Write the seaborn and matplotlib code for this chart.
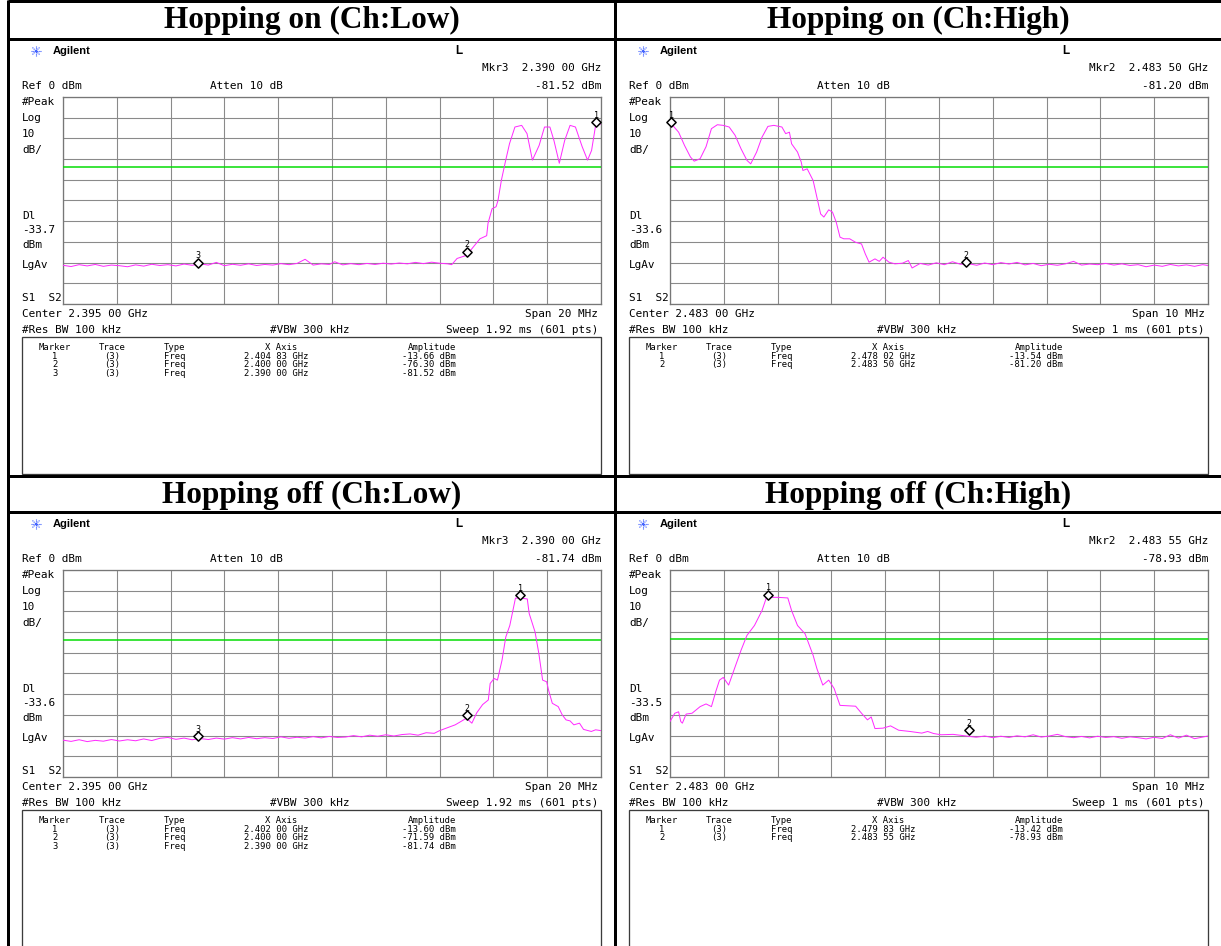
"""Four Agilent spectrum-analyser screenshots (band edge, hopping on/off) in a table."""
import pandas as pd
import seaborn as sns
import matplotlib.pyplot as plt
import matplotlib.transforms as mtransforms
from matplotlib.lines import Line2D
from matplotlib.patches import Rectangle

W, H = 1221, 946

# ---------------- data ----------------
titles = ["Hopping on (Ch:Low)", "Hopping on (Ch:High)",
          "Hopping off (Ch:Low)", "Hopping off (Ch:High)"]
center_mhz = [2395.0, 2483.0, 2395.0, 2483.0]
span_mhz = [20, 10, 20, 10]
sweep_ms = ["1.92", "1", "1.92", "1"]
display_line = [-33.7, -33.6, -33.6, -33.5]

hop_low_freq = [
    2385.0, 2385.3, 2385.6, 2385.9, 2386.2, 2386.5, 2386.8, 2387.1, 2387.4, 2387.7,
    2388.0, 2388.3, 2388.6, 2388.9, 2389.2, 2389.5, 2389.8, 2390.1, 2390.4, 2390.7,
    2391.0, 2391.3, 2391.6, 2391.9, 2392.2, 2392.5, 2392.8, 2393.1, 2393.4, 2393.7,
    2394.0, 2394.3, 2394.6, 2394.9, 2395.1, 2395.4, 2395.7, 2396.0, 2396.3, 2396.6,
    2396.9, 2397.2, 2397.5, 2397.8, 2398.1, 2398.4, 2398.7, 2399.0, 2399.3, 2399.45,
    2399.65, 2400.0, 2400.25, 2400.5, 2400.75, 2400.8, 2400.95, 2401.1, 2401.17, 2401.3,
    2401.45, 2401.6, 2401.8, 2402.05, 2402.25, 2402.45, 2402.7, 2402.9, 2403.1, 2403.25,
    2403.45, 2403.65, 2403.85, 2404.05, 2404.3, 2404.5, 2404.65, 2404.8, 2405.0]
hop_low_dbm = [
    -81.3, -81.9, -81.0, -81.6, -80.9, -81.8, -81.2, -81.5, -82.0, -81.1,
    -81.7, -80.8, -81.4, -81.0, -81.6, -80.7, -81.3, -80.6, -81.2, -79.9,
    -81.5, -80.8, -81.3, -80.6, -81.4, -80.9, -81.2, -80.5, -81.0, -80.4,
    -78.4, -81.2, -80.6, -80.9, -79.6, -81.1, -80.5, -81.0, -80.4, -80.9,
    -80.3, -80.7, -80.2, -80.6, -79.9, -80.5, -79.8, -80.3, -80.6, -81.0,
    -78.0, -76.5, -72.5, -68.5, -67.0, -61.0, -54.0, -53.0, -50.0, -40.0,
    -31.0, -22.5, -14.5, -13.7, -17.7, -30.5, -23.4, -14.5, -14.5, -21.0,
    -32.0, -21.0, -13.7, -14.5, -24.0, -30.5, -25.8, -13.7, -13.0]
hop_low_mkr_freq = [2404.83, 2400.00, 2390.00]
hop_low_mkr_dbm = [-13.66, -76.30, -81.52]

hop_high_freq = [
    2478.0, 2478.05, 2478.16, 2478.27, 2478.38, 2478.45, 2478.56, 2478.67, 2478.77, 2478.88,
    2478.99, 2479.10, 2479.21, 2479.32, 2479.43, 2479.50, 2479.61, 2479.71, 2479.82, 2479.93,
    2480.08, 2480.15, 2480.22, 2480.26, 2480.37, 2480.44, 2480.47, 2480.55, 2480.66, 2480.73,
    2480.80, 2480.86, 2480.95, 2481.02, 2481.09, 2481.16, 2481.23, 2481.34, 2481.45, 2481.56,
    2481.63, 2481.70, 2481.81, 2481.89, 2481.96, 2482.07, 2482.18, 2482.32, 2482.43, 2482.50,
    2482.65, 2482.8, 2482.95, 2483.1, 2483.25, 2483.4, 2483.55, 2483.7, 2483.85, 2484.0,
    2484.15, 2484.3, 2484.45, 2484.6, 2484.75, 2484.9, 2485.05, 2485.2, 2485.35, 2485.5,
    2485.65, 2485.8, 2485.95, 2486.1, 2486.25, 2486.4, 2486.55, 2486.7, 2486.85, 2487.0,
    2487.15, 2487.3, 2487.45, 2487.6, 2487.75, 2487.9, 2488.0]
hop_high_dbm = [
    -13.5, -13.7, -17.0, -23.4, -29.0, -31.0, -29.8, -24.0, -15.3, -13.4,
    -13.7, -14.5, -18.5, -25.0, -30.6, -32.3, -26.6, -19.4, -14.2, -13.7,
    -14.5, -17.7, -17.0, -22.6, -26.6, -31.5, -35.5, -34.7, -40.3, -48.4,
    -56.5, -58.0, -54.5, -55.6, -60.5, -67.7, -68.5, -68.5, -70.2, -71.0,
    -75.8, -79.8, -78.2, -79.4, -77.4, -79.8, -80.6, -80.3, -79.0, -82.6,
    -80.4, -81.2, -80.1, -81.0, -79.6, -80.8, -80.5, -81.3, -80.2, -81.0,
    -80.0, -80.7, -79.9, -81.1, -80.4, -81.5, -80.8, -81.3, -80.6, -79.4,
    -81.2, -80.7, -81.0, -80.4, -81.2, -80.6, -81.4, -81.0, -82.0, -81.2,
    -81.8, -80.9, -81.6, -81.1, -81.8, -81.0, -81.4]
hop_high_mkr_freq = [2478.02, 2483.50]
hop_high_mkr_dbm = [-13.54, -81.20]

fix_low_freq = [
    2385.0, 2385.3, 2385.6, 2385.9, 2386.2, 2386.5, 2386.8, 2387.1, 2387.4, 2387.7,
    2388.0, 2388.3, 2388.6, 2388.9, 2389.2, 2389.5, 2389.8, 2390.1, 2390.4, 2390.7,
    2391.0, 2391.3, 2391.6, 2391.9, 2392.2, 2392.5, 2392.8, 2393.1, 2393.4, 2393.7,
    2394.0, 2394.3, 2394.6, 2394.9, 2395.2, 2395.5, 2395.8, 2396.1, 2396.4, 2396.7,
    2397.0, 2397.3, 2397.6, 2397.9, 2398.2, 2398.5, 2398.8, 2399.0, 2399.58, 2400.0,
    2400.2, 2400.38, 2400.6, 2400.81, 2400.88, 2401.03, 2401.15, 2401.32, 2401.46, 2401.61,
    2401.75, 2401.82, 2402.04, 2402.26, 2402.33, 2402.55, 2402.69, 2402.83, 2402.98, 2403.05,
    2403.19, 2403.41, 2403.56, 2403.7, 2403.85, 2403.99, 2404.2, 2404.35, 2404.64, 2404.8,
    2405.0]
fix_low_dbm = [
    -82.2, -82.8, -82.0, -82.9, -82.3, -82.7, -81.9, -82.6, -82.0, -82.5,
    -81.6, -82.4, -81.3, -80.9, -81.8, -81.2, -82.0, -81.4, -81.9, -81.2,
    -81.7, -81.0, -81.6, -80.9, -81.5, -81.0, -81.4, -80.6, -81.3, -80.8,
    -81.2, -80.5, -81.1, -80.4, -80.9, -80.7, -80.0, -80.6, -79.8, -80.3,
    -79.6, -80.2, -79.5, -79.2, -79.8, -78.6, -78.9, -77.6, -74.8, -71.6,
    -74.0, -69.0, -65.0, -62.8, -54.8, -52.4, -53.2, -43.6, -32.4, -26.8,
    -18.0, -13.6, -13.6, -14.0, -21.0, -30.0, -40.4, -53.2, -54.0, -58.0,
    -64.4, -66.0, -70.0, -72.4, -72.9, -74.8, -74.0, -77.0, -78.0, -77.2,
    -77.6]
fix_low_mkr_freq = [2402.00, 2400.00, 2390.00]
fix_low_mkr_dbm = [-13.60, -71.59, -81.74]

fix_high_freq = [
    2478.0, 2478.09, 2478.16, 2478.2, 2478.23, 2478.30, 2478.41, 2478.56, 2478.67, 2478.77,
    2478.85, 2478.92, 2478.99, 2479.09, 2479.21, 2479.32, 2479.43, 2479.57, 2479.71, 2479.79,
    2479.86, 2480.00, 2480.19, 2480.26, 2480.37, 2480.51, 2480.66, 2480.73, 2480.84, 2480.95,
    2481.05, 2481.16, 2481.31, 2481.45, 2481.56, 2481.67, 2481.74, 2481.81, 2481.96, 2482.10,
    2482.25, 2482.46, 2482.68, 2482.79, 2482.90, 2483.04, 2483.26, 2483.48, 2483.69, 2483.85,
    2484.0, 2484.15, 2484.3, 2484.45, 2484.6, 2484.75, 2484.9, 2485.05, 2485.2, 2485.35,
    2485.5, 2485.65, 2485.8, 2485.95, 2486.1, 2486.25, 2486.4, 2486.55, 2486.7, 2486.85,
    2487.0, 2487.15, 2487.3, 2487.45, 2487.6, 2487.75, 2487.9, 2488.0]
fix_high_dbm = [
    -73.2, -69.2, -68.5, -73.2, -74.0, -69.6, -69.2, -66.0, -64.7, -66.0,
    -58.8, -53.2, -51.9, -55.6, -46.8, -38.8, -31.6, -26.8, -19.6, -13.5,
    -13.2, -13.2, -13.5, -19.6, -26.8, -30.8, -41.2, -47.6, -55.6, -53.2,
    -57.2, -65.4, -65.6, -65.8, -69.2, -72.4, -71.0, -76.6, -76.4, -75.3,
    -77.4, -78.0, -78.8, -78.0, -79.0, -79.6, -79.4, -80.1, -80.8, -80.2,
    -81.0, -80.3, -80.9, -80.1, -80.6, -79.6, -80.7, -80.2, -79.4, -80.5,
    -81.0, -80.4, -81.1, -80.3, -80.9, -80.5, -81.3, -80.6, -81.0, -81.6,
    -80.8, -81.4, -79.6, -81.2, -79.8, -81.5, -80.7, -80.2]
fix_high_mkr_freq = [2479.83, 2483.55]
fix_high_mkr_dbm = [-13.42, -78.93]

traces = [(hop_low_freq, hop_low_dbm, hop_low_mkr_freq, hop_low_mkr_dbm),
          (hop_high_freq, hop_high_dbm, hop_high_mkr_freq, hop_high_mkr_dbm),
          (fix_low_freq, fix_low_dbm, fix_low_mkr_freq, fix_low_mkr_dbm),
          (fix_high_freq, fix_high_dbm, fix_high_mkr_freq, fix_high_mkr_dbm)]

# ---------------- layout (pixels, origin top-left) ----------------
sns.set_style("white")
plt.rcParams['font.family'] = ['DejaVu Sans Mono', 'DejaVu Sans']
plt.rcParams['text.color'] = 'black'
MONO = 'DejaVu Sans Mono'
fig = plt.figure(figsize=(W / 100, H / 100), dpi=100)

PX = 0.72  # points per pixel at 100 dpi


def fx(x):
    return x / W


def fy(y):
    return 1 - y / H


def txt(x, y, s, ha='left', size=7.9, **kw):
    fig.text(fx(x), fy(y), s, ha=ha, va='center', size=size, **kw)


def hline(x0, x1, y, lw, color='black'):
    fig.add_artist(Line2D([fx(x0), fx(x1)], [fy(y), fy(y)], lw=lw * PX,
                          color=color, transform=fig.transFigure, solid_capstyle='butt'))


def vline(x, y0, y1, lw, color='black'):
    fig.add_artist(Line2D([fx(x), fx(x)], [fy(y0), fy(y1)], lw=lw * PX,
                          color=color, transform=fig.transFigure, solid_capstyle='butt'))


def ghz(mhz):
    s = f"{mhz / 1000:.5f}"
    return s[:5] + " " + s[5:] + " GHz"


def draw_panel(i, ox, oy):
    freq, dbm, mk_f, mk_d = traces[i]
    start = center_mhz[i] - span_mhz[i] / 2

    # instrument header
    cx, cy = ox + 36, oy + 51
    for dx, dy in [(5, 0), (0, 5), (3.5, 3.5), (3.5, -3.5)]:
        fig.add_artist(Line2D([fx(cx - dx), fx(cx + dx)], [fy(cy - dy), fy(cy + dy)],
                              lw=0.8, color='#3a5cff', ls=(0, (1, 0.6)),
                              transform=fig.transFigure))
    txt(ox + 53, oy + 51, "Agilent", size=8, weight='bold', family='Liberation Sans')
    txt(ox + 455, oy + 51, "L", size=8.5, weight='bold', family='Liberation Sans')
    n = len(mk_f)
    txt(ox + 601, oy + 68, f"Mkr{n}  {ghz(mk_f[-1])}", ha='right', family=MONO)
    txt(ox + 22, oy + 86, "Ref 0 dBm", family=MONO)
    txt(ox + 210, oy + 86, "Atten 10 dB", family=MONO)
    txt(ox + 601, oy + 86, f"{mk_d[-1]:.2f} dBm", ha='right', family=MONO)

    left_labels = [("#Peak", 102), ("Log", 118), ("10", 134), ("dB/", 150),
                   ("Dl", 216), (f"{display_line[i]:.1f}", 230), ("dBm", 245),
                   ("LgAv", 265), ("S1  S2", 298)]
    for s, y in left_labels:
        txt(ox + 22, oy + y, s, family=MONO)

    txt(ox + 22, oy + 314, f"Center {ghz(center_mhz[i])}", family=MONO)
    txt(ox + 598, oy + 314, f"Span {span_mhz[i]} MHz", ha='right', family=MONO)
    txt(ox + 22, oy + 330, "#Res BW 100 kHz", family=MONO)
    txt(ox + 270, oy + 330, "#VBW 300 kHz", family=MONO)
    txt(ox + 598, oy + 330, f"Sweep {sweep_ms[i]} ms (601 pts)", ha='right', family=MONO)

    # marker table
    fig.add_artist(Rectangle((fx(ox + 22), fy(oy + 474)), (601 - 22) / W, (474 - 337) / H,
                             fill=False, lw=1.3 * PX, edgecolor='#3c3c3c',
                             transform=fig.transFigure))
    ts = 6.4
    txt(ox + 55, oy + 347, "Marker", ha='center', size=ts, family=MONO)
    txt(ox + 112, oy + 347, "Trace", ha='center', size=ts, family=MONO)
    txt(ox + 164, oy + 347, "Type", size=ts, family=MONO)
    txt(ox + 281, oy + 347, "X Axis", ha='center', size=ts, family=MONO)
    txt(ox + 456, oy + 347, "Amplitude", ha='right', size=ts, family=MONO)
    for k in range(n):
        y = oy + 356 + k * 8.7
        txt(ox + 55, y, str(k + 1), ha='center', size=ts, family=MONO)
        txt(ox + 112, y, "(3)", ha='center', size=ts, family=MONO)
        txt(ox + 164, y, "Freq", size=ts, family=MONO)
        txt(ox + 276, y, ghz(mk_f[k]), ha='center', size=ts, family=MONO)
        txt(ox + 456, y, f"{mk_d[k]:.2f} dBm", ha='right', size=ts, family=MONO)

    # graticule + trace
    x0, x1, y0, y1 = ox + 63, ox + 601, oy + 97, oy + 304
    ax = fig.add_axes([fx(x0), fy(y1), (x1 - x0) / W, (y1 - y0) / H])
    ax.set_facecolor('white')
    ax.set_xlim(start, start + span_mhz[i])
    ax.set_ylim(-100, 0)
    ax.set_xticks([start + span_mhz[i] * t / 10 for t in range(11)])
    ax.set_yticks(range(-100, 1, 10))
    ax.grid(True, color='#8a8a8a', lw=1.1 * PX)
    ax.tick_params(length=0, labelbottom=False, labelleft=False)
    for sp in ax.spines.values():
        sp.set_color('#777777')
        sp.set_linewidth(1.3 * PX)

    ax.axhline(display_line[i], color='#00dc00', lw=1.5 * PX, zorder=3)
    df = pd.DataFrame({"freq": freq, "dbm": dbm})
    sns.lineplot(data=df, x="freq", y="dbm", ax=ax, color='#ff2cff', lw=1.0 * PX,
                 sort=False, estimator=None, zorder=4)
    ax.set_xlabel("")
    ax.set_ylabel("")

    up = mtransforms.offset_copy(ax.transData, fig=fig, x=0, y=3, units='dots')
    mk = pd.DataFrame({"freq": mk_f, "dbm": mk_d})
    sns.scatterplot(data=mk, x="freq", y="dbm", ax=ax, marker='D', s=22,
                    facecolor='white', edgecolor='black', linewidth=1.1,
                    transform=up, clip_on=False, zorder=5)
    ax.set_xlabel("")
    ax.set_ylabel("")
    for k in range(n):
        ax.annotate(str(k + 1), (mk_f[k], mk_d[k]), xytext=(0, 10), textcoords='offset pixels',
                    ha='center', va='center', size=6, family=MONO, annotation_clip=False)


offsets = [(0, 0), (607, 0), (0, 473), (607, 473)]
for i, (ox, oy) in enumerate(offsets):
    draw_panel(i, ox, oy)

# table frame and titles
hline(8, W, 1.5, 3)
hline(8, W, 39, 3)
hline(8, W, 476, 3)
hline(8, W, 512, 3)
vline(8, 0, H, 3)
vline(615, 0, H, 3)
for i, (tx, ty) in enumerate([(312, 20), (918, 20), (312, 495), (918, 495)]):
    txt(tx, ty, titles[i], ha='center', size=22.5, weight='bold', family='Liberation Serif')

fig.savefig("out.png", dpi=100)
